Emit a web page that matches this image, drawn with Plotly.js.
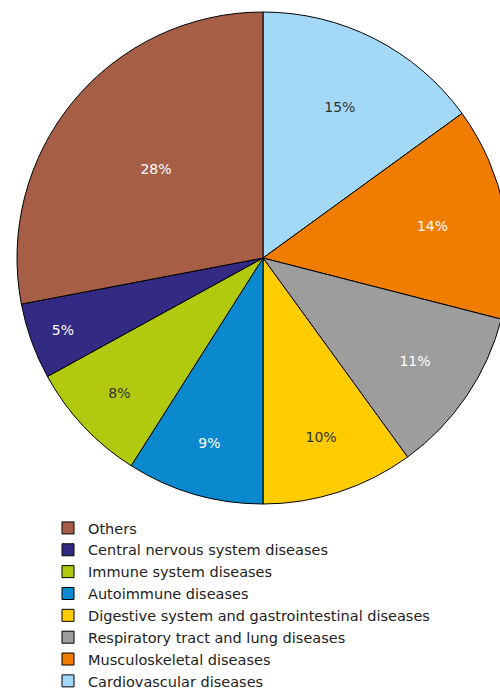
<!DOCTYPE html>
<html>
<head>
<meta charset="utf-8">
<script src="https://cdn.plot.ly/plotly-3.0.1.min.js"></script>
<style>
html,body{margin:0;padding:0;overflow:hidden;background:#fff;width:500px;height:693px;}
#chart{width:530px;height:693px;}
</style>
</head>
<body>
<div id="chart"></div>
<script>
// Slices listed clockwise from 12 o'clock; legend shows them in reverse.
const categories = [
  "Cardiovascular diseases",
  "Musculoskeletal diseases",
  "Respiratory tract and lung diseases",
  "Digestive system and gastrointestinal diseases",
  "Autoimmune diseases",
  "Immune system diseases",
  "Central nervous system diseases",
  "Others"
];
const shares = [15, 14, 11, 10, 9, 8, 5, 28];
const sliceColors = ["#A3D9F6", "#F07D00", "#9D9D9D", "#FFCC00", "#0A89CF", "#B1C90E", "#332A84", "#A65E47"];
const labelColors = ["#333333", "#ffffff", "#ffffff", "#333333", "#ffffff", "#333333", "#ffffff", "#ffffff"];

const W = 530, H = 693;
const cx = 263, cy = 258, R = 246;

const trace = {
  type: "pie",
  labels: categories,
  values: shares,
  sort: false,
  direction: "clockwise",
  rotation: 0,
  marker: {colors: sliceColors, line: {color: "#000000", width: 1}},
  texttemplate: "%{value}%",
  textinfo: "text",
  textposition: "inside",
  insidetextorientation: "horizontal",
  textfont: {family: "DejaVu Sans, sans-serif", size: 14, color: labelColors},
  hoverinfo: "label+percent",
  domain: {x: [(cx - R) / W, (cx + R) / W], y: [(H - cy - R) / H, (H - cy + R) / H]}
};

const layout = {
  width: W,
  height: H,
  margin: {l: 0, r: 0, t: 0, b: 0, autoexpand: false},
  paper_bgcolor: "#ffffff",
  showlegend: true,
  legend: {
    x: 48 / W, xanchor: "left",
    y: (H - 512) / H, yanchor: "top",
    traceorder: "reversed",
    font: {family: "DejaVu Sans, sans-serif", size: 14.5, color: "#222222"},
    bgcolor: "rgba(0,0,0,0)",
    borderwidth: 0,
    tracegroupgap: 0
  }
};

Plotly.newPlot("chart", [trace], layout, {staticPlot: true, displayModeBar: false});
</script>
</body>
</html>
